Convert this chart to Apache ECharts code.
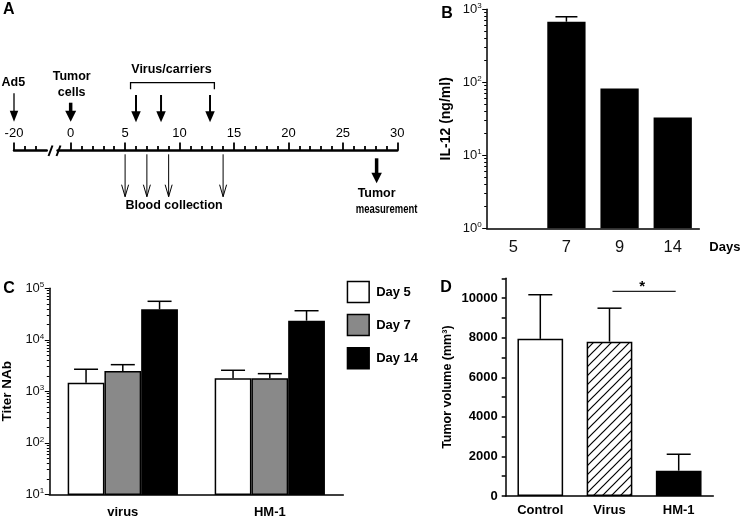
<!DOCTYPE html>
<html><head><meta charset="utf-8">
<script src="https://cdn.jsdelivr.net/npm/echarts@6/dist/echarts.min.js"></script>
<style>html,body{margin:0;padding:0;background:#fff}#c{width:741px;height:519px}</style>
</head><body><div id="c"></div>
<script>
// ---------------- DATA ----------------
// Panel A – experimental timeline (days)
const preTicksMajor = [-20];
const preTicksMinor = [-19, -18];
const timelineMajorTicks = [0, 5, 10, 15, 20, 25, 30];
const timelineMinorTicks = [1,2,3,4,6,7,8,9,11,12,13,14,16,17,18,19,21,22,23,24,26,27,28,29];
const ad5Day = [-20];
const tumorCellDay = [0];
const virusDays = [6, 8.3, 12.8];
const virusBracket = [5.5, 13.2];
const bloodDays = [5, 7, 9, 14];
const measureDay = [28.1];

// Panel B – IL-12 (ng/ml)
const bDays = ['5', '7', '9', '14'];
const bIL12 = [null, 676, 82, 33];
const bIL12Upper = [null, 790, null, null];
const bTicks = [1, 10, 100, 1000];

// Panel C – Titer NAb
const cGroups = ['virus', 'HM-1'];
const cSeriesNames = ['Day 5', 'Day 7', 'Day 14'];
const cDay5 = [1470, 1790];
const cDay7 = [2480, 1790];
const cDay14 = [39000, 23500];
const cDay5Upper = [2680, 2560];
const cDay7Upper = [3290, 2200];
const cDay14Upper = [55900, 36700];
const cTicks = [10, 100, 1000, 10000, 100000];

// Panel D – Tumor volume (mm3)
const dGroups = ['Control', 'Virus', 'HM-1'];
const dVolume = [7940, 7800, 1280];
const dVolumeUpper = [10170, 9490, 2110];
const dSignif = [[1, 2, 10340]];
const dTickLabels = [0, 2000, 4000, 6000, 8000, 10000];
const dTicks = [0, 1000, 2000, 3000, 4000, 5000, 6000, 7000, 8000, 9000, 10000, 11000];

// ---------------- HELPERS ----------------
const FONT = "'Liberation Sans', Arial, Helvetica, sans-serif";
function logMinor(min, max) {
  const out = [];
  for (let d = min; d < max; d *= 10) for (let k = 2; k <= 9; k++) out.push(d * k);
  return out;
}
function supLabel(v) { return '{b|10}{s|' + Math.round(Math.log10(v)) + '}'; }
const supRich = {
  b: {fontSize: 13, fontFamily: FONT, color: '#111', lineHeight: 15},
  s: {fontSize: 8, fontFamily: FONT, color: '#111', verticalAlign: 'top'}
};
function hatch() {
  const c = document.createElement('canvas'); c.width = 9; c.height = 9;
  const g = c.getContext('2d');
  g.fillStyle = '#fff'; g.fillRect(0, 0, 9, 9);
  g.strokeStyle = '#000'; g.lineWidth = 1.2; g.beginPath();
  g.moveTo(-1, 10); g.lineTo(10, -1);
  g.moveTo(-2, 2); g.lineTo(2, -2);
  g.moveTo(7, 11); g.lineTo(11, 7);
  g.stroke();
  return c;
}
function downArrow(x, yTop, yTip, o) {
  const hw = o.hw / 2, hl = o.hl, ch = [];
  if (o.open) {
    ch.push({type: 'line', shape: {x1: x, y1: yTop, x2: x, y2: yTip}, style: {stroke: '#000', lineWidth: o.lw}});
    ch.push({type: 'polyline', shape: {points: [[x - hw, yTip - hl], [x, yTip], [x + hw, yTip - hl]]}, style: {stroke: '#000', fill: null, lineWidth: o.lw}});
  } else {
    ch.push({type: 'line', shape: {x1: x, y1: yTop, x2: x, y2: yTip - hl + 1}, style: {stroke: '#000', lineWidth: o.lw}});
    ch.push({type: 'polygon', shape: {points: [[x - hw, yTip - hl], [x, yTip], [x + hw, yTip - hl]]}, style: {fill: '#000'}});
  }
  return ch;
}
function txt(x, y, s, size, scaleX) {
  return {type: 'text', x: x, y: y, scaleX: scaleX || 1,
    style: {text: s, fill: '#000', font: 'bold ' + size + 'px ' + FONT,
      textAlign: 'center', textVerticalAlign: 'middle', align: 'center', verticalAlign: 'middle'}};
}
const tl = {color: '#000', width: 1.8};
const blackLine = {color: '#000', width: 1.5};

// ---------------- CHART ----------------
const chart = echarts.init(document.getElementById('c'), null, {renderer: 'canvas', width: 741, height: 519});

const xAxes = [
  // A left segment
  {gridIndex: 0, type: 'value', min: -20, max: -17, position: 'bottom',
    axisLine: {onZero: false, lineStyle: {color: '#000', width: 2.5}},
    axisTick: {inside: true, length: 8, customValues: preTicksMajor, lineStyle: tl},
    axisLabel: {inside: true, margin: 11, customValues: preTicksMajor, color: '#000', fontSize: 13, fontFamily: FONT},
    splitLine: {show: false}},
  {gridIndex: 0, type: 'value', min: -20, max: -17, position: 'bottom',
    axisLine: {show: false, onZero: false},
    axisTick: {inside: true, length: 4.5, customValues: preTicksMinor, lineStyle: tl},
    axisLabel: {show: false}, splitLine: {show: false}},
  // A right segment
  {gridIndex: 1, type: 'value', min: -1.2, max: 30, position: 'bottom',
    axisLine: {onZero: false, lineStyle: {color: '#000', width: 2.5}},
    axisTick: {inside: true, length: 8, customValues: timelineMajorTicks, lineStyle: tl},
    axisLabel: {inside: true, margin: 11, customValues: timelineMajorTicks, color: '#000', fontSize: 13, fontFamily: FONT},
    splitLine: {show: false}},
  {gridIndex: 1, type: 'value', min: -1.2, max: 30, position: 'bottom',
    axisLine: {show: false, onZero: false},
    axisTick: {inside: true, length: 4.5, customValues: timelineMinorTicks, lineStyle: tl},
    axisLabel: {show: false}, splitLine: {show: false}},
  // B
  {gridIndex: 2, type: 'category', data: bDays, position: 'bottom',
    axisLine: {onZero: false, lineStyle: blackLine},
    axisTick: {alignWithLabel: true, length: 4.5, lineStyle: blackLine},
    axisLabel: {margin: 11, color: '#111', fontSize: 16.5, fontFamily: FONT},
    name: 'Days', nameLocation: 'end', nameGap: 10,
    nameTextStyle: {color: '#000', fontSize: 13, fontWeight: 'bold', fontFamily: FONT, verticalAlign: 'top', padding: [13, 0, 0, 0]}},
  // C
  {gridIndex: 3, type: 'category', data: cGroups, position: 'bottom',
    axisLine: {onZero: false, lineStyle: blackLine},
    axisTick: {alignWithLabel: true, length: 5, lineStyle: blackLine},
    axisLabel: {margin: 12, color: '#000', fontSize: 13, fontWeight: 'bold', fontFamily: FONT}},
  // D
  {gridIndex: 4, type: 'category', data: dGroups, position: 'bottom',
    axisLine: {onZero: false, lineStyle: blackLine},
    axisTick: {alignWithLabel: true, length: 4, lineStyle: blackLine},
    axisLabel: {margin: 8, color: '#000', fontSize: 13, fontWeight: 'bold', fontFamily: FONT}}
];

const yAxes = [
  {gridIndex: 0, type: 'value', min: 0, max: 100, show: false},
  {gridIndex: 1, type: 'value', min: 0, max: 100, show: false},
  // B
  {gridIndex: 2, type: 'log', logBase: 10, min: 1, max: 1000, position: 'left',
    axisLine: {show: true, onZero: false, lineStyle: blackLine},
    axisTick: {show: true, length: 4.5, customValues: bTicks, lineStyle: {color: '#000', width: 1}},
    axisLabel: {margin: 5, customValues: bTicks, formatter: supLabel, rich: supRich},
    splitLine: {show: false},
    name: 'IL-12 (ng/ml)', nameLocation: 'middle', nameRotate: 90, nameGap: 34,
    nameTextStyle: {color: '#000', fontSize: 14, fontWeight: 'bold', fontFamily: FONT}},
  {gridIndex: 2, type: 'log', logBase: 10, min: 1, max: 1000, position: 'left',
    axisLine: {show: false, onZero: false},
    axisTick: {show: true, length: 2.5, customValues: logMinor(1, 1000), lineStyle: {color: '#000', width: 1}},
    axisLabel: {show: false}, splitLine: {show: false}},
  // C
  {gridIndex: 3, type: 'log', logBase: 10, min: 10, max: 100000, position: 'left',
    axisLine: {show: true, onZero: false, lineStyle: blackLine},
    axisTick: {show: true, length: 4.5, customValues: cTicks, lineStyle: {color: '#000', width: 1}},
    axisLabel: {margin: 5, customValues: cTicks, formatter: supLabel, rich: supRich},
    splitLine: {show: false},
    name: 'Titer NAb', nameLocation: 'middle', nameRotate: 90, nameGap: 35,
    nameTextStyle: {color: '#000', fontSize: 13.5, fontWeight: 'bold', fontFamily: FONT}},
  {gridIndex: 3, type: 'log', logBase: 10, min: 10, max: 100000, position: 'left',
    axisLine: {show: false, onZero: false},
    axisTick: {show: true, length: 2.5, customValues: logMinor(10, 100000), lineStyle: {color: '#000', width: 1}},
    axisLabel: {show: false}, splitLine: {show: false}},
  // D
  {gridIndex: 4, type: 'value', min: 0, max: 11000, position: 'left',
    axisLine: {show: true, onZero: false, lineStyle: blackLine},
    axisTick: {show: true, length: 4, customValues: dTicks, lineStyle: blackLine},
    axisLabel: {margin: 8, customValues: dTickLabels, formatter: v => String(v), color: '#000', fontSize: 13, fontWeight: 'bold', fontFamily: FONT},
    splitLine: {show: false},
    name: 'Tumor volume (mm³)', nameLocation: 'middle', nameRotate: 90, nameGap: 52,
    nameTextStyle: {color: '#000', fontSize: 12.5, fontWeight: 'bold', fontFamily: FONT}}
];

function errRender(nBars, barFrac, capW) {
  return function (params, api) {
    const ci = api.value(0), v = api.value(1), up = api.value(2), si = api.value(3) || 0;
    const band = api.coord([1, v])[0] - api.coord([0, v])[0];
    const off = nBars > 1 ? (si - (nBars - 1) / 2) * band * barFrac : 0;
    const b = api.coord([ci, v]), t = api.coord([ci, up]);
    const x = b[0] + off;
    return {type: 'group', children: [
      {type: 'line', shape: {x1: x, y1: b[1], x2: x, y2: t[1]}, style: {stroke: '#000', lineWidth: 1.5}},
      {type: 'line', shape: {x1: x - capW / 2, y1: t[1], x2: x + capW / 2, y2: t[1]}, style: {stroke: '#000', lineWidth: 1.5}}
    ]};
  };
}

const bErrData = bIL12.map((v, i) => [i, v, bIL12Upper[i], 0]).filter(r => r[1] != null && r[2] != null);
const cVals = [cDay5, cDay7, cDay14], cUps = [cDay5Upper, cDay7Upper, cDay14Upper];
const cErrData = [];
cVals.forEach((arr, si) => arr.forEach((v, ci) => cErrData.push([ci, v, cUps[si][ci], si])));
const dErrData = dVolume.map((v, i) => [i, v, dVolumeUpper[i], 0]);
const cColors = ['#ffffff', '#898989', '#000000'];
const dColors = ['#ffffff', {image: hatch(), repeat: 'repeat'}, '#000000'];

const series = [
  {type: 'custom', name: 'Ad5', xAxisIndex: 0, yAxisIndex: 0, clip: false, silent: true,
    data: ad5Day.map(d => [d, 0]),
    renderItem: (p, api) => {
      const d = api.value(0), x = api.coord([d, 0])[0], Y = v => api.coord([d, v])[1];
      return {type: 'group', children: downArrow(x, Y(57.2), Y(28.8), {lw: 1.3, hw: 8.5, hl: 11}).concat([txt(x - 0.6, Y(67.8), 'Ad5', 12.5)])};
    }},
  {type: 'custom', name: 'Tumor cells', xAxisIndex: 2, yAxisIndex: 1, clip: false, silent: true,
    data: tumorCellDay.map(d => [d, 0]),
    renderItem: (p, api) => {
      const d = api.value(0), x = api.coord([d, 0])[0], Y = v => api.coord([d, v])[1];
      return {type: 'group', children: downArrow(x, Y(47.8), Y(28.8), {lw: 3.5, hw: 11, hl: 11}).concat([txt(x + 1, Y(73.8), 'Tumor', 12.5), txt(x + 1, Y(57.8), 'cells', 12.5)])};
    }},
  {type: 'custom', name: 'Virus/carriers', xAxisIndex: 2, yAxisIndex: 1, clip: false, silent: true,
    data: virusDays.map(d => [d, 0]),
    renderItem: (p, api) => {
      const d = api.value(0), x = api.coord([d, 0])[0], Y = v => api.coord([d, v])[1];
      return {type: 'group', children: downArrow(x, Y(55.5), Y(28.2), {lw: 2, hw: 9.5, hl: 11})};
    }},
  {type: 'custom', name: 'Virus bracket', xAxisIndex: 2, yAxisIndex: 1, clip: false, silent: true,
    data: [virusBracket],
    renderItem: (p, api) => {
      const a = api.value(0), b = api.value(1);
      const x1 = api.coord([a, 0])[0], x2 = api.coord([b, 0])[0], Y = v => api.coord([a, v])[1];
      return {type: 'group', children: [
        {type: 'polyline', shape: {points: [[x1, Y(61.2)], [x1, Y(67.8)], [x2, Y(67.8)], [x2, Y(61.2)]]}, style: {stroke: '#000', lineWidth: 1.3, fill: null}},
        txt((x1 + x2) / 2 - 1, Y(80.5), 'Virus/carriers', 12.5)
      ]};
    }},
  {type: 'custom', name: 'Blood collection', xAxisIndex: 2, yAxisIndex: 1, clip: false, silent: true,
    data: bloodDays.map(d => [d, 0]),
    renderItem: (p, api) => {
      const d = api.value(0), x = api.coord([d, 0])[0], Y = v => api.coord([d, v])[1];
      return {type: 'group', children: downArrow(x, Y(-3.8), Y(-46.2), {lw: 1, hw: 7, hl: 12, open: true})};
    }},
  {type: 'custom', name: 'Blood label', xAxisIndex: 2, yAxisIndex: 1, clip: false, silent: true,
    data: [[bloodDays[0], bloodDays[bloodDays.length - 1]]],
    renderItem: (p, api) => {
      const a = api.value(0), b = api.value(1);
      const x = (api.coord([a, 0])[0] + api.coord([b, 0])[0]) / 2, y = api.coord([a, -55.5])[1];
      return txt(x, y, 'Blood collection', 12.5);
    }},
  {type: 'custom', name: 'Tumor measurement', xAxisIndex: 2, yAxisIndex: 1, clip: false, silent: true,
    data: measureDay.map(d => [d, 0]),
    renderItem: (p, api) => {
      const d = api.value(0), x = api.coord([d, 0])[0], Y = v => api.coord([d, v])[1];
      return {type: 'group', children: downArrow(x, Y(-7.8), Y(-32.8), {lw: 3.5, hw: 10.5, hl: 10.5}).concat([
        txt(x, Y(-43.5), 'Tumor', 12.5), txt(x + 10, Y(-58.8), 'measurement', 12.5, 0.76)])};
    }},
  // B
  {type: 'bar', name: 'IL-12', xAxisIndex: 4, yAxisIndex: 2, barWidth: '72%',
    data: bIL12.map(v => v == null ? '-' : v), itemStyle: {color: '#000'}, silent: true},
  {type: 'custom', name: 'IL-12 SEM', xAxisIndex: 4, yAxisIndex: 2, clip: false, silent: true,
    data: bErrData, renderItem: errRender(1, 0, 22)},
  // C
  ...cVals.map((arr, i) => ({type: 'bar', name: cSeriesNames[i], xAxisIndex: 5, yAxisIndex: 4,
    data: arr, barWidth: '25%', barGap: '0%', silent: true,
    itemStyle: {color: cColors[i], borderColor: '#000', borderWidth: 1.5}})),
  {type: 'custom', name: 'NAb SEM', xAxisIndex: 5, yAxisIndex: 4, clip: false, silent: true,
    data: cErrData, renderItem: errRender(3, 0.25, 24)},
  // D
  {type: 'bar', name: 'Tumor volume', xAxisIndex: 6, yAxisIndex: 6, barWidth: '66%', silent: true,
    data: dVolume.map((v, i) => ({value: v, itemStyle: {color: dColors[i]}})),
    itemStyle: {borderColor: '#000', borderWidth: 1.5}},
  {type: 'custom', name: 'Volume SEM', xAxisIndex: 6, yAxisIndex: 6, clip: false, silent: true,
    data: dErrData, renderItem: errRender(1, 0, 24)},
  {type: 'custom', name: 'Significance', xAxisIndex: 6, yAxisIndex: 6, clip: false, silent: true,
    data: dSignif,
    renderItem: (p, api) => {
      const a = api.coord([api.value(0), api.value(2)]), b = api.coord([api.value(1), api.value(2)]);
      return {type: 'group', children: [
        {type: 'line', shape: {x1: a[0] + 3, y1: a[1], x2: b[0] - 3, y2: b[1]}, style: {stroke: '#222', lineWidth: 1.3}},
        txt((a[0] + b[0]) / 2 - 2, a[1] - 5, '*', 15)
      ]};
    }}
];

const letter = (s, x, y) => ({type: 'text', x: x, y: y, silent: true,
  style: {text: s, fill: '#000', font: 'bold 16px ' + FONT, textAlign: 'center', textVerticalAlign: 'middle', align: 'center', verticalAlign: 'middle'}});

chart.setOption({
  animation: false,
  backgroundColor: '#fff',
  textStyle: {fontFamily: FONT},
  grid: [
    {left: 14, top: 50.5, width: 32.7, height: 100, outerBoundsMode: 'none'},
    {left: 57.6, top: 50.5, width: 339.7, height: 100, outerBoundsMode: 'none'},
    {left: 486.7, top: 9.3, width: 212.6, height: 219, outerBoundsMode: 'none'},
    {left: 49.3, top: 288.3, width: 294, height: 206, outerBoundsMode: 'none'},
    {left: 505.7, top: 278.3, width: 207.6, height: 217.7, outerBoundsMode: 'none'}
  ],
  legend: {data: cSeriesNames, orient: 'vertical', left: 346.7, top: 280.7, padding: 0,
    itemWidth: 21.7, itemHeight: 21, itemGap: 10.6, icon: 'rect', selectedMode: false,
    itemStyle: {borderColor: '#000', borderWidth: 1.5},
    textStyle: {color: '#000', fontSize: 13, fontWeight: 'bold', fontFamily: FONT, padding: [0, 0, 0, 2]}},
  xAxis: xAxes,
  yAxis: yAxes,
  series: series,
  graphic: [
    letter('A', 8.7, 10), letter('B', 447, 13.3), letter('C', 9, 289), letter('D', 446, 288),
    {type: 'line', silent: true, shape: {x1: 48.5, y1: 156, x2: 52.5, y2: 145.5}, style: {stroke: '#000', lineWidth: 2}},
    {type: 'line', silent: true, shape: {x1: 56.5, y1: 156, x2: 60.5, y2: 145.5}, style: {stroke: '#000', lineWidth: 2}}
  ]
});
</script></body></html>
